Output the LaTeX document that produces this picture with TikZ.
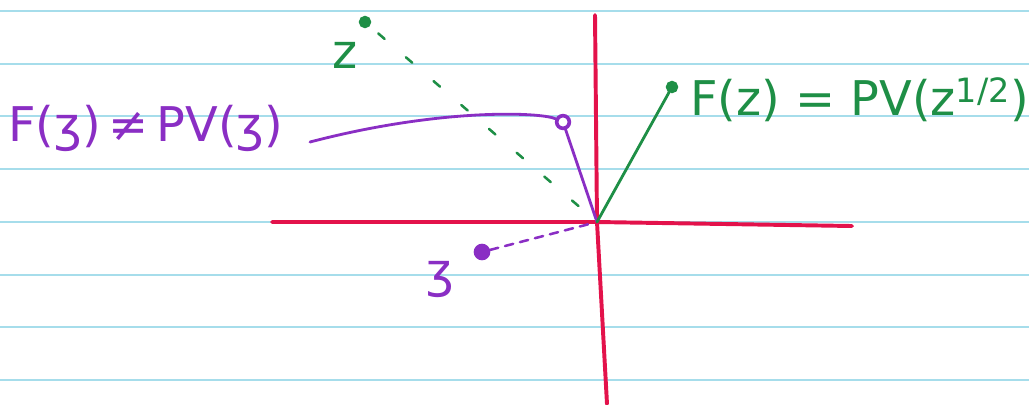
\documentclass[tikz,border=0pt]{standalone}
\usepackage{fontspec}
\setmainfont{DejaVu Sans}
\usetikzlibrary{arrows.meta,positioning,calc}
\definecolor{ruleblue}{HTML}{A6DDEB}
\definecolor{axisred}{HTML}{E3124B}
\definecolor{zgreen}{HTML}{1E8F46}
\definecolor{wpurple}{HTML}{8A2EC4}
\tikzset{
  axis/.style    = {axisred, line width=2.8pt, line cap=round},
  ruling/.style  = {ruleblue, line width=1pt},
  pen/.style     = {line width=2pt, line cap=round},
  sparse/.style  = {line width=1.8pt, line cap=round, dash pattern=on 6pt off 20pt},
  dot/.style     = {circle, draw, line width=1.8pt, inner sep=0pt, minimum size=7pt},
  handlab/.style = {font=\fontsize{34}{34}\selectfont, inner sep=0pt},
}
\begin{document}
\begin{tikzpicture}[x=0.025cm,y=-0.025cm]
\useasboundingbox (0,0) rectangle (1029,404);
\fill[white] (0,0) rectangle (1029,404);
% ruled paper
\foreach \y in {11,64,116,169,222,275,327,380}
  \draw[ruling] (0,\y) -- (1029,\y);
% axes
\coordinate (O) at (597,222);
\coordinate (xl) at (272,222);
\coordinate (xr) at (852,226);
\coordinate (yt) at (595,15);
\coordinate (yb) at (607,404);
\draw[axis] (xl) -- (O) -- (xr);
\draw[axis] (yt) -- (O) -- (yb);
% points
\node[dot, wpurple, fill=white, line width=2.6pt, minimum size=9pt] (fw) at (563,122) {};
\node[dot, zgreen, fill=zgreen] (fz) at (672,87) {};
\node[dot, zgreen, fill=zgreen] (z) at (365,22) {};
\node[dot, wpurple, fill=wpurple, minimum size=10pt] (w) at (482,252) {};
% labels
\node[handlab, zgreen] (zlab) at (345,55) {z};
\node[handlab, wpurple] (wlab) at (440,280) {ʒ};
\node[handlab, wpurple, anchor=west] (fwlab) at (8,128) {F(ʒ)\,≠\,PV(ʒ)};
\node[handlab, zgreen, anchor=west] (fzlab) at (690,100) {F(z) = PV(z\textsuperscript{1/2})};
\coordinate (fwtail) at (310,142);
% maps
\draw[pen, wpurple] (O) -- (fw);
\draw[pen, zgreen] (O) -- (fz);
\draw[pen, wpurple] (fw) .. controls (540,112) and (440,108) .. (fwtail);
\draw[sparse, zgreen, shorten <=8pt, shorten >=4pt] (z) -- (O);
\draw[sparse, wpurple, dash pattern=on 6pt off 5pt, shorten >=4pt] (w) -- (O);
\end{tikzpicture}
\end{document}
